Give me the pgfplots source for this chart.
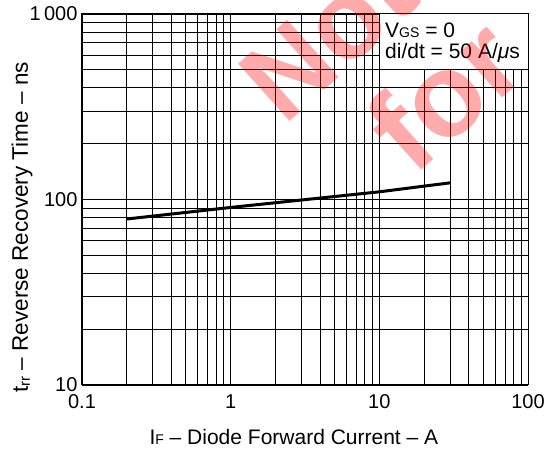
\documentclass[border=0pt]{standalone}
\usepackage{fontspec}
\setmainfont{Liberation Sans}
\usepackage{pgfplots}
\pgfplotsset{compat=1.18}
\begin{document}
\begin{tikzpicture}[x=1pt,y=1pt]
\begin{axis}[
  scale only axis, width=446pt, height=371pt,
  at={(0,0)}, anchor=south west,
  xmode=log, ymode=log,
  xmin=0.1, xmax=100, ymin=10, ymax=1000,
  xtick={0.1,1,10,100}, xticklabels={0.1,1,10,100},
  ytick={10,100,1000}, yticklabels={10,100,1\,000},
  minor xtick={0.2,0.3,0.4,0.5,0.6,0.7,0.8,0.9,2,3,4,5,6,7,8,9,20,30,40,50,60,70,80,90},
  minor ytick={20,30,40,50,60,70,80,90,200,300,400,500,600,700,800,900},
  grid=both,
  major grid style={black, line width=0.9pt},
  minor grid style={black, line width=0.9pt},
  major tick length=0pt, minor tick length=0pt,
  axis line style={black, line width=1pt},
  tick label style={font=\fontsize{20}{24}\selectfont},
  xticklabel style={yshift=-6pt},
  yticklabel style={xshift=-1pt},
  xlabel={I{\fontsize{14}{14}\selectfont F} -- Diode Forward Current -- A},
  xlabel style={font=\fontsize{21}{24}\selectfont, at={(rel axis cs:0.475,-0.14)}, anchor=center},
  ylabel={t{\fontsize{15}{15}\selectfont\raisebox{-2pt}{rr}} -- Reverse Recovery Time -- ns},
  ylabel style={font=\fontsize{22.5}{26}\selectfont, at={(rel axis cs:-0.1345,0.425)}, anchor=center, rotate=0},
  clip=false,
]
\addplot[black, line width=3pt, mark=none] coordinates {(0.2,78.5) (1,90.6) (10,110) (30,123)};
\coordinate (bA) at (axis cs:10,500);
\coordinate (bB) at (axis cs:100,1000);
\end{axis}
\fill[white] (bA) rectangle (bB);
\draw[black, line width=0.9pt] (bA |- bB) -- (bA) -- (bB |- bA);
\draw[black, line width=1pt] (bA |- bB) -- (bB) -- (bB |- bA);
\node[anchor=west, font=\fontsize{21}{24}\selectfont, inner sep=0pt] at (303,355) {V{\fontsize{14}{14}\selectfont GS} = 0};
\node[anchor=west, font=\fontsize{21}{24}\selectfont, inner sep=0pt] at (303,332) {di/dt = 50 A/\textit{μ}s};
\node[rotate=42, text=red, opacity=0.33, font=\bfseries\fontsize{112}{112}\selectfont, inner sep=0pt] at (328-82,385-36) {Not};
\node[rotate=42, text=red, opacity=0.33, font=\bfseries\fontsize{118}{118}\selectfont, inner sep=0pt] at (444-82,385-94) {for};
\pgfresetboundingbox
\path (-82,-72) rectangle (466,385);
\end{tikzpicture}
\end{document}
